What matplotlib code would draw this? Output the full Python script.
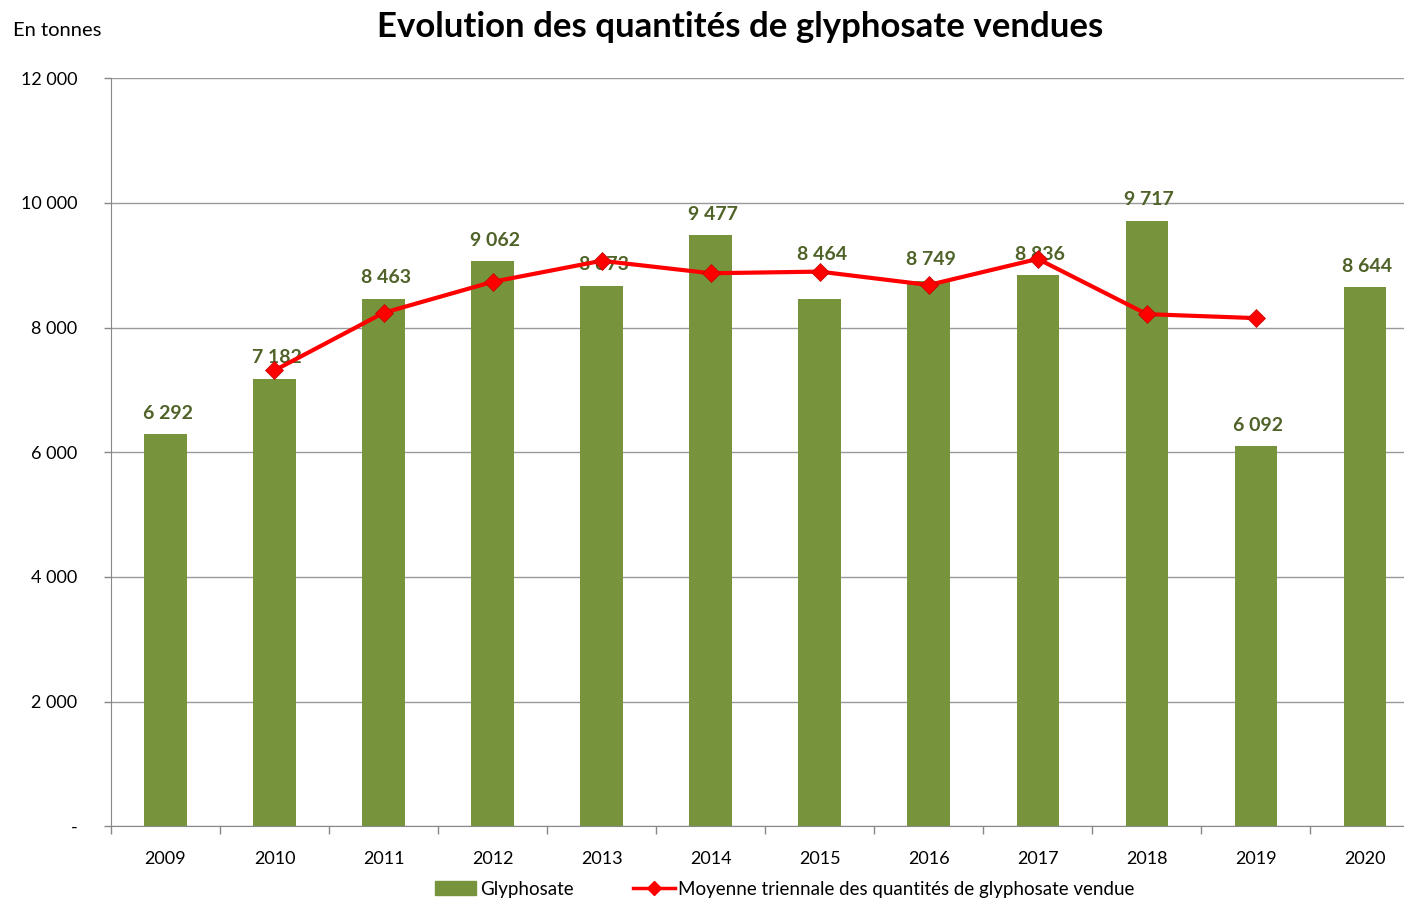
import numpy as np
import matplotlib.pyplot as plt
from matplotlib.lines import Line2D
from matplotlib.patches import Patch

# Data
years = ["2009", "2010", "2011", "2012", "2013", "2014",
         "2015", "2016", "2017", "2018", "2019", "2020"]
glyphosate = [6292, 7182, 8463, 9062, 8673, 9477, 8464, 8749, 8836, 9717, 6092, 8644]
# three-year moving average (2010..2019)
avg_years = ["2010", "2011", "2012", "2013", "2014",
             "2015", "2016", "2017", "2018", "2019"]
moyenne = [7312, 8236, 8733, 9071, 8871, 8897, 8683, 9101, 8215, 8151]

y_ticks = [0, 2000, 4000, 6000, 8000, 10000, 12000]
y_labels = ["-", "2 000", "4 000", "6 000", "8 000", "10 000", "12 000"]

bar_color = "#77933C"
label_color = "#4F6228"
line_color = "#FF0000"
font = ["Lato", "DejaVu Sans"]

# the 2015 label was moved up above the line marker in the original
label_nudge = {"2015": 370}

plt.rcParams["font.family"] = font

fig = plt.figure(figsize=(14.04, 8.99), dpi=100)
# plot area runs a bit past the right edge, as in the original
ax = fig.add_axes([0.079, 0.081, 0.932, 0.832])

x = np.arange(len(years))
ax.bar(x, glyphosate, width=0.39, color=bar_color, zorder=2)

for xi, yr, v in zip(x, years, glyphosate):
    txt = f"{v:,}".replace(",", " ")
    ax.text(xi + 0.02, v + 200 + label_nudge.get(yr, 0), txt,
            ha="center", va="bottom", fontsize=14, fontweight="bold",
            color=label_color, zorder=3)

avg_x = [years.index(y) for y in avg_years]
ax.plot(avg_x, moyenne, color=line_color, linewidth=3, marker="D",
        markersize=9, markerfacecolor=line_color, markeredgecolor="#C00000",
        markeredgewidth=0.5, zorder=4)

ax.set_xlim(-0.5, len(years) - 0.5)
ax.set_ylim(0, 12000)
ax.set_yticks(y_ticks)
ax.set_yticklabels(y_labels, fontsize=13)
ax.set_xticks(x)
ax.set_xticklabels(years, fontsize=13)
ax.tick_params(axis="x", length=0, pad=18)
ax.tick_params(axis="y", length=5, width=1, color="#888888", pad=19)

# category boundary ticks
ax.set_xticks(np.arange(-0.5, len(years), 1), minor=True)
ax.tick_params(axis="x", which="minor", length=6, width=1, color="#888888")

ax.grid(axis="y", color="#999999", linewidth=1, zorder=0)
ax.set_axisbelow(True)
for side in ["top", "right"]:
    ax.spines[side].set_visible(False)
ax.spines["left"].set_color("#888888")
ax.spines["bottom"].set_color("#888888")

fig.text(0.527, 0.970, "Evolution des quantités de glyphosate vendues",
         ha="center", va="center", fontsize=25, fontweight="bold")
fig.text(0.009, 0.966, "En tonnes", ha="left", va="center", fontsize=14.5)

handles = [Patch(color=bar_color),
           Line2D([0], [0], color=line_color, linewidth=2.5, marker="D",
                  markersize=7, markerfacecolor=line_color)]
fig.legend(handles, ["Glyphosate",
                     "Moyenne triennale des quantités de glyphosate vendue"],
           loc="center", bbox_to_anchor=(0.559, 0.011), ncol=2, frameon=False,
           fontsize=13.5, handlelength=2.2, handletextpad=0.2, columnspacing=3.2)

fig.savefig("out.png", dpi=100)
